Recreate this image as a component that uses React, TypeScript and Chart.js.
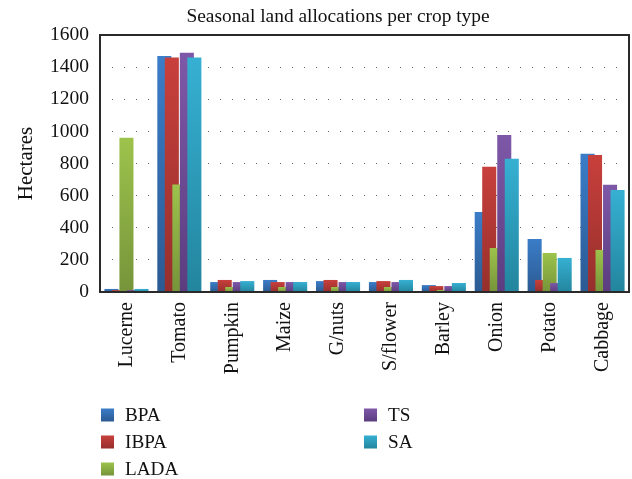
import React, { useEffect, useRef } from "react";
import { Chart, registerables } from "chart.js";

Chart.register(...registerables);

const categories = ["Lucerne", "Tomato", "Pumpkin", "Maize", "G/nuts", "S/flower", "Barley", "Onion", "Potato", "Cabbage"];
const bpa = [19, 1470, 62, 75, 68, 62, 43, 498, 330, 860];
const ibpa = [12, 1460, 75, 62, 75, 68, 37, 779, 75, 853];
const lada = [960, 670, 31, 31, 31, 31, 12, 274, 243, 262];
const ts = [12, 1490, 62, 62, 62, 62, 37, 978, 56, 667];
const sa = [19, 1460, 68, 62, 62, 75, 56, 829, 212, 635];
const seriesNames = ["BPA", "IBPA", "LADA", "TS", "SA"];
const yTicks = [0, 200, 400, 600, 800, 1000, 1200, 1400, 1600];
const titleText = "Seasonal land allocations per crop type";
const yTitle = "Hectares";

const palette: [string, string][] = [
  ["#3B7DC8", "#2B5A92"],
  ["#C8403C", "#962F2C"],
  ["#9DC34C", "#76943A"],
  ["#7E58A8", "#5B3D7F"],
  ["#36B0D2", "#23859E"],
];

const FONT = "'Liberation Serif', 'DejaVu Serif', serif";

function barFill(idx: number) {
  return (c: any) => {
    const chart = c.chart;
    const y = chart.scales && chart.scales.y;
    if (!y || c.type !== "data") return palette[idx][0];
    const v = typeof c.raw === "number" ? c.raw : 0;
    const top = y.getPixelForValue(v);
    const bot = y.getPixelForValue(0);
    if (!isFinite(top) || !isFinite(bot) || Math.abs(bot - top) < 0.5) return palette[idx][0];
    const g = chart.ctx.createLinearGradient(0, top, 0, bot);
    g.addColorStop(0, palette[idx][0]);
    g.addColorStop(1, palette[idx][1]);
    return g;
  };
}

const forwardDraw = {
  id: "forwardDraw",
  beforeDatasetsDraw(chart: any) {
    const metas = chart.getSortedVisibleDatasetMetas();
    const ctx = chart.ctx;
    for (const m of metas) {
      ctx.save();
      m.controller.draw();
      ctx.restore();
    }
    return false;
  },
};

const decor = {
  id: "decor",
  afterDraw(chart: any) {
    const ctx = chart.ctx;
    const a = chart.chartArea;
    ctx.save();
    // frame
    ctx.strokeStyle = "#2a2a2a";
    ctx.lineWidth = 2;
    ctx.strokeRect(a.left, a.top, a.right - a.left, a.bottom - a.top);
    // title
    ctx.fillStyle = "#111";
    ctx.font = `19.4px ${FONT}`;
    ctx.textAlign = "center";
    ctx.textBaseline = "middle";
    ctx.fillText(titleText, 338, 17);
    // legend
    const pos = [
      [101, 415],
      [101, 442],
      [101, 469],
      [364, 415],
      [364, 442],
    ];
    ctx.font = `19.2px ${FONT}`;
    ctx.textAlign = "left";
    seriesNames.forEach((name, i) => {
      const [x, y] = pos[i];
      const g = ctx.createLinearGradient(0, y - 6.5, 0, y + 6.5);
      g.addColorStop(0, palette[i][0]);
      g.addColorStop(1, palette[i][1]);
      ctx.fillStyle = g;
      ctx.fillRect(x, y - 6.5, 13, 13);
      ctx.fillStyle = "#111";
      ctx.fillText(name, x + 24, y + 1);
    });
    ctx.restore();
  },
};

export default function App() {
  const ref = useRef<HTMLCanvasElement>(null);
  useEffect(() => {
    document.body.style.margin = "0";
    const values = [bpa, ibpa, lada, ts, sa];
    const chart = new Chart(ref.current as HTMLCanvasElement, {
      type: "bar",
      data: {
        labels: categories,
        datasets: seriesNames.map((n, i) => ({
          label: n,
          data: values[i],
          backgroundColor: barFill(i),
          borderWidth: 0,
          categoryPercentage: 0.71,
          barPercentage: 1.87,
        })),
      },
      options: {
        responsive: false,
        animation: false,
        layout: { padding: { top: 35, right: 3, left: 0, bottom: 0 } },
        plugins: {
          legend: { display: false },
          title: { display: false },
          tooltip: { enabled: false },
        },
        scales: {
          x: {
            grid: { display: false, drawTicks: false },
            border: { display: false },
            ticks: {
              minRotation: 90,
              maxRotation: 90,
              padding: 10,
              color: "#111",
              font: { family: FONT, size: 20 },
            },
            afterFit(scale: any) {
              scale.height = 187;
              scale.paddingLeft = 0;
              scale.paddingRight = 0;
            },
          },
          y: {
            min: 0,
            max: 1600,
            afterBuildTicks(scale: any) {
              scale.ticks = yTicks.map((v) => ({ value: v }));
            },
            grid: {
              drawTicks: false,
              tickLength: 0,
              lineWidth: 1,
              color: (c: any) =>
                c.tick && (c.tick.value === 0 || c.tick.value === 1600) ? "rgba(0,0,0,0)" : "#666",
            },
            border: { display: false, dash: [1, 11] },
            ticks: {
              padding: 11,
              color: "#111",
              font: { family: FONT, size: 19.5 },
              callback: (v: any) => String(v),
            },
            title: {
              display: true,
              text: yTitle,
              color: "#111",
              font: { family: FONT, size: 21 },
              padding: { top: 14, bottom: 0 },
            },
            afterFit(scale: any) {
              scale.width = 100;
              scale.paddingTop = 0;
              scale.paddingBottom = 0;
            },
          },
        },
      },
      plugins: [forwardDraw, decor],
    });
    return () => chart.destroy();
  }, []);
  return (
    <div style={{ position: "absolute", left: 0, top: 0, width: 632, height: 479 }}>
      <canvas ref={ref} width={632} height={479} />
    </div>
  );
}
